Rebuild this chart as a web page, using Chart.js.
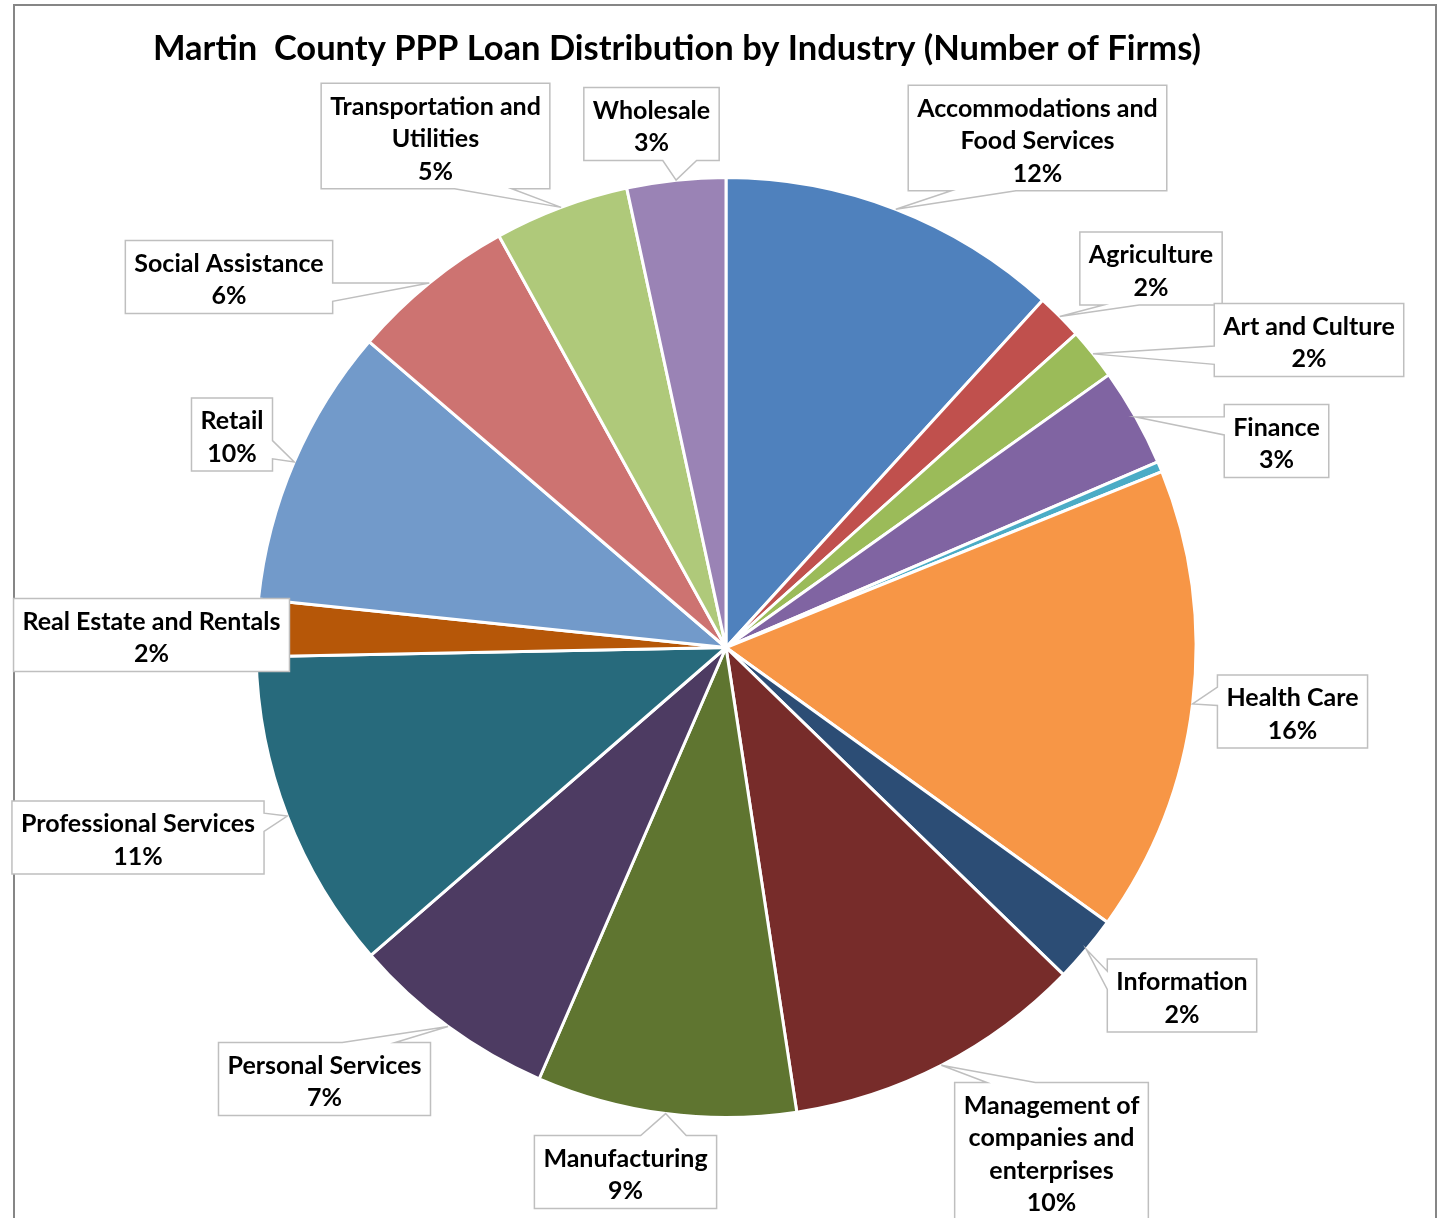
<!DOCTYPE html>
<html>
<head>
<meta charset="utf-8">
<title>Martin County PPP Loans by Industry</title>
<script src="https://cdn.jsdelivr.net/npm/chart.js@4/dist/chart.umd.min.js"></script>
<style>
  html, body { margin: 0; padding: 0; background: #fff; }
  #wrap { position: relative; width: 1443px; height: 1218px; }
</style>
</head>
<body>
<div id="wrap"><canvas id="pie"></canvas></div>
<script>
var chartTitle = 'Martin  County PPP Loan Distribution by Industry (Number of Firms)';

// industries (each entry is the label's wrapped lines)
var industries = [
  ['Accommodations and', 'Food Services'],
  ['Agriculture'],
  ['Art and Culture'],
  ['Finance'],
  ['Government'],
  ['Health Care'],
  ['Information'],
  ['Management of', 'companies and', 'enterprises'],
  ['Manufacturing'],
  ['Personal Services'],
  ['Professional Services'],
  ['Real Estate and Rentals'],
  ['Retail'],
  ['Social Assistance'],
  ['Transportation and', 'Utilities'],
  ['Wholesale']
];

// number of firms with a PPP loan
var firms = [66, 9, 10, 19, 2, 90, 13, 58, 50, 40, 62, 11, 54, 32, 26, 19];

var colors = [
  '#4F81BD', '#C0504D', '#9BBB59', '#8064A2', '#4BACC6', '#F79646',
  '#2C4D75', '#772C2A', '#5F7530', '#4D3B62', '#276A7C', '#B65708',
  '#729ACA', '#CD7371', '#AFC97A', '#9A83B5'
];

// where each callout box sits (box centre, px); null = no label
var labelBoxes = [
  [1037.5, 138], [1151, 268.5], [1309, 340], [1276.5, 441], null,
  [1292.5, 711.5], [1182, 995.5], [1051.5, 1151.5], [625.5, 1172],
  [324.5, 1079], [138, 837.5], [151.5, 635], [232, 434.5], [229, 277],
  [435.5, 136], [651.5, 124]
];

var LABEL_FONT = 'bold 25px Lato';
var TITLE_FONT = 'bold 34.5px Lato';
var LINE_H = 32.5;

// rectangle with a wedge pointing at (tx, ty), like the Excel callout shape
function calloutPath(ctx, l, t, w, h, tx, ty) {
  var r = l + w, b = t + h;
  var dx = tx - (l + w / 2), dy = ty - (t + h / 2);
  ctx.beginPath();
  if (tx > l && tx < r && ty > t && ty < b) {
    ctx.rect(l, t, w, h);
    return;
  }
  var vert = Math.abs(dy * w) > Math.abs(dx * h);
  var fx = dx > 0 ? [7 / 12, 10 / 12] : [2 / 12, 5 / 12];
  var fy = dy > 0 ? [7 / 12, 10 / 12] : [2 / 12, 5 / 12];
  ctx.moveTo(l, t);
  if (vert && dy < 0) {
    ctx.lineTo(l + w * fx[0], t); ctx.lineTo(tx, ty); ctx.lineTo(l + w * fx[1], t);
  }
  ctx.lineTo(r, t);
  if (!vert && dx > 0) {
    ctx.lineTo(r, t + h * fy[0]); ctx.lineTo(tx, ty); ctx.lineTo(r, t + h * fy[1]);
  }
  ctx.lineTo(r, b);
  if (vert && dy > 0) {
    ctx.lineTo(l + w * fx[1], b); ctx.lineTo(tx, ty); ctx.lineTo(l + w * fx[0], b);
  }
  ctx.lineTo(l, b);
  if (!vert && dx < 0) {
    ctx.lineTo(l, t + h * fy[1]); ctx.lineTo(tx, ty); ctx.lineTo(l, t + h * fy[0]);
  }
  ctx.closePath();
}

// white background, grey outer frame and the title
var framePlugin = {
  id: 'frame',
  beforeDraw: function(chart) {
    var ctx = chart.ctx;
    ctx.save();
    ctx.fillStyle = '#fff';
    ctx.fillRect(0, 0, chart.width, chart.height);
    ctx.strokeStyle = '#868686';
    ctx.lineWidth = 2;
    ctx.strokeRect(14, 5, 1422, 1300);
    ctx.fillStyle = '#000';
    ctx.font = TITLE_FONT;
    ctx.textAlign = 'center';
    ctx.textBaseline = 'middle';
    ctx.fillText(chartTitle, 677, 49);
    ctx.restore();
  }
};

var calloutPlugin = {
  id: 'callouts',
  afterDatasetsDraw: function(chart) {
    var ctx = chart.ctx;
    var meta = chart.getDatasetMeta(0);
    var data = chart.data.datasets[0].data;
    var total = data.reduce(function(a, b) { return a + b; }, 0);
    ctx.save();
    ctx.font = LABEL_FONT;
    meta.data.forEach(function(arc, i) {
      var pos = labelBoxes[i];
      if (!pos) return;
      var lines = industries[i].concat([Math.round(data[i] / total * 100) + '%']);
      var tw = 0;
      lines.forEach(function(s) { tw = Math.max(tw, ctx.measureText(s).width); });
      var w = tw + 18, h = lines.length * LINE_H + 8;
      var l = pos[0] - w / 2, t = pos[1] - h / 2;
      var p = arc.getProps(['x', 'y', 'startAngle', 'endAngle', 'outerRadius'], true);
      var mid = (p.startAngle + p.endAngle) / 2;
      var tx = p.x + Math.cos(mid) * p.outerRadius;
      var ty = p.y + Math.sin(mid) * p.outerRadius;
      calloutPath(ctx, l, t, w, h, tx, ty);
      ctx.fillStyle = '#fff';
      ctx.fill();
      ctx.strokeStyle = '#BFBFBF';
      ctx.lineWidth = 1.5;
      ctx.stroke();
      ctx.fillStyle = '#000';
      ctx.textAlign = 'center';
      ctx.textBaseline = 'middle';
      lines.forEach(function(s, k) {
        ctx.fillText(s, pos[0], t + 7 + LINE_H * (k + 0.5));
      });
    });
    ctx.restore();
  }
};

new Chart(document.getElementById('pie'), {
  type: 'pie',
  data: {
    labels: industries,
    datasets: [{
      data: firms,
      backgroundColor: colors,
      borderColor: '#fff',
      borderWidth: 3
    }]
  },
  options: {
    responsive: true,
    maintainAspectRatio: false,
    animation: false,
    radius: 470,
    layout: { padding: { left: 9, right: 0, top: 77, bottom: 0 } },
    plugins: {
      legend: { display: false },
      tooltip: { enabled: false },
      title: { display: false }
    }
  },
  plugins: [framePlugin, calloutPlugin]
});
</script>
</body>
</html>
